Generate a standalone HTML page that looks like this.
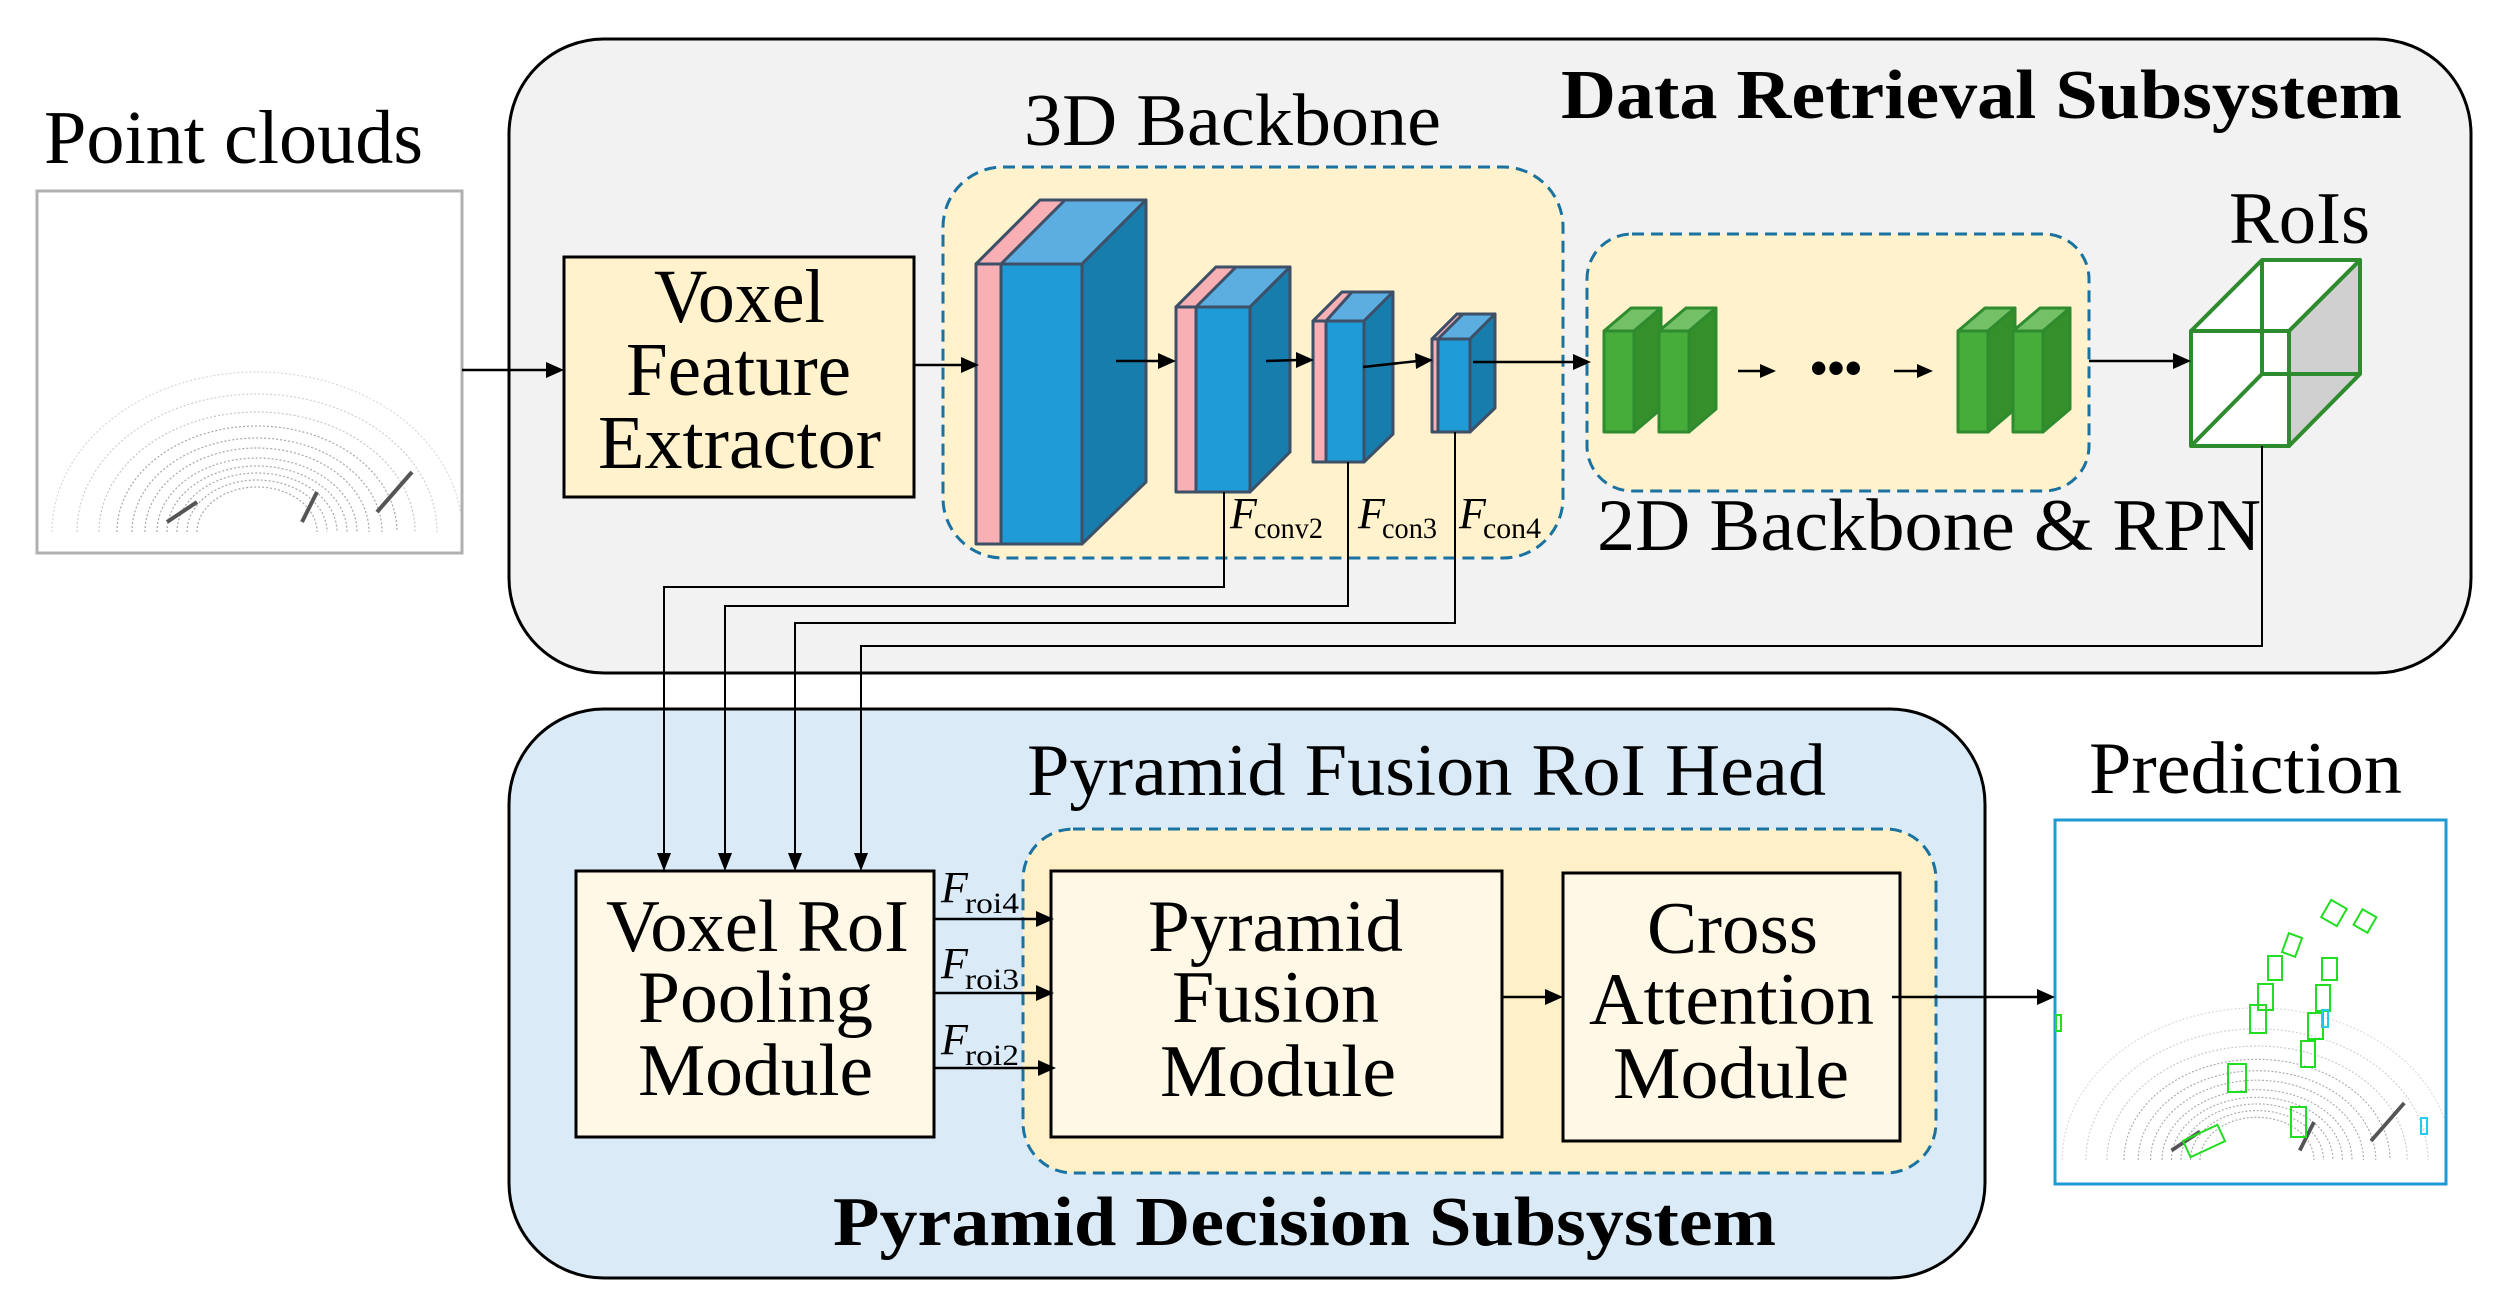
<!DOCTYPE html>
<html><head><meta charset="utf-8"><style>
html,body{margin:0;padding:0;background:#fff;}
svg{display:block;}
text{font-family:"Liberation Serif",serif;fill:#000;}
</style></head><body>
<svg width="2500" height="1309" viewBox="0 0 2500 1309" xmlns="http://www.w3.org/2000/svg">
<defs>
<g id="pc">
 <g fill="none" stroke="#a8a8a8" stroke-width="1.2" stroke-dasharray="2 2">
  <path d="M-60 0 A60 45 0 0 1 60 0"/><path d="M-70 0 A70 52 0 0 1 70 0"/>
  <path d="M-80 0 A80 59 0 0 1 80 0"/><path d="M-90 0 A90 66 0 0 1 90 0"/>
  <path d="M-100 0 A100 74 0 0 1 100 0"/><path d="M-112 0 A112 84 0 0 1 112 0"/>
  <path d="M-125 0 A125 94 0 0 1 125 0"/><path d="M-140 0 A140 106 0 0 1 140 0"/>
  <path d="M-158 0 A158 120 0 0 1 158 0" stroke="#c8c8c8"/><path d="M-180 0 A180 138 0 0 1 180 0" stroke="#d0d0d0"/>
  <path d="M-205 0 A205 160 0 0 1 205 0" stroke="#dadada"/>
 </g>
 <path d="M-90 -10 l30 -20 M60 -40 l-15 30 M120 -20 l35 -40" stroke="#555" stroke-width="4"/>
</g>
</defs>

<rect x="509" y="39" width="1962" height="634" rx="95" ry="95" fill="#f2f2f2" stroke="#000" stroke-width="3"/>
<rect x="509" y="709" width="1476" height="569" rx="95" ry="95" fill="#dbeaf7" stroke="#000" stroke-width="3"/>

<text x="44" y="163" font-size="76" textLength="379" lengthAdjust="spacingAndGlyphs">Point clouds</text>
<rect x="37" y="191" width="425" height="362" fill="#fff" stroke="#b0b0b0" stroke-width="3"/>
<svg x="38" y="192" width="423" height="360" overflow="hidden"><g transform="translate(219,340)"><use href="#pc"/></g></svg>

<rect x="564" y="257" width="350" height="240" fill="#fff2cc" stroke="#000" stroke-width="3"/>
<text x="654" y="322" font-size="76" textLength="171" lengthAdjust="spacingAndGlyphs">Voxel</text>
<text x="626" y="395" font-size="76" textLength="225" lengthAdjust="spacingAndGlyphs">Feature</text>
<text x="598" y="468" font-size="76" textLength="283" lengthAdjust="spacingAndGlyphs">Extractor</text>

<text x="1024" y="145" font-size="74" textLength="417" lengthAdjust="spacingAndGlyphs">3D Backbone</text>
<rect x="943" y="167" width="620" height="391" rx="60" fill="#fff2cc" stroke="#1a72a0" stroke-width="3" stroke-dasharray="12 7"/>

<g stroke="#3d5068" stroke-width="3" stroke-linejoin="round">
 <polygon points="976,264 1040,200 1146,200 1082,264" fill="#5caee0"/>
 <polygon points="976,264 1040,200 1065,200 1001,264" fill="#f8b0b5"/>
 <polygon points="1082,264 1146,200 1146,482 1082,544" fill="#177dad"/>
 <rect x="976" y="264" width="25" height="280" fill="#f8b0b5"/>
 <rect x="1001" y="264" width="81" height="280" fill="#1f9bd7"/>
 <polygon points="1176,307 1216,267 1290,267 1250,307" fill="#5caee0"/>
 <polygon points="1176,307 1216,267 1236,267 1196,307" fill="#f8b0b5"/>
 <polygon points="1250,307 1290,267 1290,452 1250,492" fill="#177dad"/>
 <rect x="1176" y="307" width="20" height="185" fill="#f8b0b5"/>
 <rect x="1196" y="307" width="54" height="185" fill="#1f9bd7"/>
 <polygon points="1313,321 1342,292 1393,292 1364,321" fill="#5caee0"/>
 <polygon points="1313,321 1342,292 1352,292 1326,321" fill="#f8b0b5"/>
 <polygon points="1364,321 1393,292 1393,434 1364,462" fill="#177dad"/>
 <rect x="1313" y="321" width="13" height="141" fill="#f8b0b5"/>
 <rect x="1326" y="321" width="38" height="141" fill="#1f9bd7"/>
 <polygon points="1432,339 1457,314 1495,314 1470,339" fill="#5caee0"/>
 <polygon points="1432,339 1457,314 1463,314 1438,339" fill="#f8b0b5"/>
 <polygon points="1470,339 1495,314 1495,408 1470,432" fill="#177dad"/>
 <rect x="1432" y="339" width="6" height="93" fill="#f8b0b5"/>
 <rect x="1438" y="339" width="32" height="93" fill="#1f9bd7"/>
</g>

<g font-style="italic" font-size="44">
<text x="1230" y="528">F</text><text x="1358" y="528">F</text><text x="1459" y="528">F</text>
</g>
<g font-size="30">
<text x="1254" y="538" textLength="69" lengthAdjust="spacingAndGlyphs">conv2</text>
<text x="1382" y="538" textLength="55" lengthAdjust="spacingAndGlyphs">con3</text>
<text x="1483" y="538" textLength="58" lengthAdjust="spacingAndGlyphs">con4</text>
</g>

<rect x="1587" y="234" width="502" height="257" rx="45" fill="#fff2cc" stroke="#1a72a0" stroke-width="3" stroke-dasharray="12 7"/>
<g stroke="#2e8b2e" stroke-width="3" stroke-linejoin="round">
 <g id="gb">
 <polygon points="1604,331 1631,308 1661,308 1634,331" fill="#73c066"/>
 <polygon points="1634,331 1661,308 1661,409 1634,432" fill="#35902c"/>
 <rect x="1604" y="331" width="30" height="101" fill="#46ad3a"/>
 </g>
 <use href="#gb" x="55"/>
 <use href="#gb" x="354"/>
 <use href="#gb" x="409"/>
</g>
<g font-size="50" font-weight="bold"><text x="1810" y="385" textLength="52" lengthAdjust="spacingAndGlyphs">•••</text></g>
<text x="1597" y="550" font-size="74" textLength="664" lengthAdjust="spacingAndGlyphs">2D Backbone &amp; RPN</text>

<text x="2229" y="243" font-size="74" textLength="141" lengthAdjust="spacingAndGlyphs">RoIs</text>
<g stroke="#2e8b2e" stroke-width="4" fill="none" stroke-linejoin="round">
 <polygon points="2289,331 2360,260 2360,374 2289,446" fill="#d0d0d0"/>
 <polygon points="2191,331 2262,260 2360,260 2289,331" fill="#fff"/>
 <rect x="2191" y="331" width="98" height="115" fill="#fff"/>
 <line x1="2262" y1="260" x2="2262" y2="374"/>
 <line x1="2191" y1="446" x2="2262" y2="374"/>
 <line x1="2262" y1="374" x2="2360" y2="374"/>
</g>

<text x="1561" y="118" font-size="70" font-weight="bold" textLength="841" lengthAdjust="spacingAndGlyphs">Data Retrieval Subsystem</text>

<!-- bottom content -->
<text x="1027" y="795" font-size="74" textLength="799" lengthAdjust="spacingAndGlyphs">Pyramid Fusion RoI Head</text>
<rect x="1023" y="829" width="913" height="344" rx="50" fill="#fff0c8" stroke="#1a72a0" stroke-width="3" stroke-dasharray="12 7"/>

<rect x="576" y="871" width="358" height="266" fill="#fff8e6" stroke="#000" stroke-width="3"/>
<text x="606" y="951" font-size="74" textLength="303" lengthAdjust="spacingAndGlyphs">Voxel RoI</text>
<text x="638" y="1022" font-size="74" textLength="235" lengthAdjust="spacingAndGlyphs">Pooling</text>
<text x="638" y="1095" font-size="74" textLength="235" lengthAdjust="spacingAndGlyphs">Module</text>

<rect x="1051" y="871" width="451" height="266" fill="#fff8e6" stroke="#000" stroke-width="3"/>
<text x="1148" y="951" font-size="74" textLength="255" lengthAdjust="spacingAndGlyphs">Pyramid</text>
<text x="1172" y="1022" font-size="74" textLength="207" lengthAdjust="spacingAndGlyphs">Fusion</text>
<text x="1160" y="1096" font-size="74" textLength="236" lengthAdjust="spacingAndGlyphs">Module</text>

<rect x="1563" y="873" width="337" height="268" fill="#fff8e6" stroke="#000" stroke-width="3"/>
<text x="1647" y="953" font-size="74" textLength="171" lengthAdjust="spacingAndGlyphs">Cross</text>
<text x="1589" y="1024" font-size="74" textLength="285" lengthAdjust="spacingAndGlyphs">Attention</text>
<text x="1613" y="1098" font-size="74" textLength="236" lengthAdjust="spacingAndGlyphs">Module</text>

<g font-style="italic" font-size="44">
<text x="941" y="902">F</text><text x="941" y="978">F</text><text x="941" y="1054">F</text>
</g>
<g font-size="30">
<text x="965" y="913" textLength="54" lengthAdjust="spacingAndGlyphs">roi4</text>
<text x="965" y="989" textLength="54" lengthAdjust="spacingAndGlyphs">roi3</text>
<text x="965" y="1065" textLength="54" lengthAdjust="spacingAndGlyphs">roi2</text>
</g>

<text x="833" y="1245" font-size="70" font-weight="bold" textLength="943" lengthAdjust="spacingAndGlyphs">Pyramid Decision Subsystem</text>

<text x="2089" y="793" font-size="74" textLength="313" lengthAdjust="spacingAndGlyphs">Prediction</text>
<rect x="2055" y="820" width="391" height="364" fill="#fff" stroke="#1e9bd7" stroke-width="3"/>
<svg x="2057" y="822" width="387" height="360" overflow="hidden"><g transform="translate(200,338) scale(0.95)"><use href="#pc"/></g></svg>
<g fill="none" stroke="#22dd22" stroke-width="2">
 <rect x="2325" y="903" width="18" height="20" transform="rotate(30 2334 913)"/>
 <rect x="2357" y="912" width="16" height="18" transform="rotate(30 2365 921)"/>
 <rect x="2285" y="935" width="14" height="20" transform="rotate(20 2292 945)"/>
 <rect x="2268" y="956" width="14" height="24"/>
 <rect x="2322" y="958" width="15" height="22"/>
 <rect x="2258" y="984" width="15" height="26"/>
 <rect x="2316" y="985" width="14" height="26"/>
 <rect x="2250" y="1005" width="16" height="28"/>
 <rect x="2308" y="1013" width="15" height="26"/>
 <rect x="2301" y="1041" width="14" height="26"/>
 <rect x="2228" y="1064" width="18" height="28"/>
 <rect x="2291" y="1107" width="15" height="30"/>
 <rect x="2185" y="1132" width="38" height="18" transform="rotate(-25 2204 1141)"/>
 <rect x="2056" y="1015" width="5" height="16"/>
</g>
<g fill="none" stroke="#22ccee" stroke-width="2">
 <rect x="2322" y="1010" width="6" height="17"/>
 <rect x="2421" y="1118" width="6" height="16"/>
</g>

<!-- connectors (drawn last) -->
<g stroke="#000" stroke-width="2.5" fill="none">
 <line x1="462" y1="370" x2="548" y2="370"/>
 <line x1="914" y1="365" x2="963" y2="365"/>
 <line x1="1116" y1="361" x2="1160" y2="361"/>
 <line x1="1266" y1="361" x2="1298" y2="360"/>
 <line x1="1363" y1="367" x2="1418" y2="361"/>
 <line x1="1473" y1="362" x2="1575" y2="362"/>
 <line x1="1738" y1="371" x2="1762" y2="371"/>
 <line x1="1894" y1="371" x2="1919" y2="371"/>
 <line x1="2089" y1="361" x2="2175" y2="361"/>
 <line x1="1892" y1="997" x2="2039" y2="997"/>
 <line x1="934" y1="919" x2="1038" y2="919"/>
 <line x1="934" y1="993" x2="1038" y2="993"/>
 <line x1="934" y1="1068" x2="1040" y2="1068"/>
 <line x1="1502" y1="997" x2="1547" y2="997"/>
</g>
<g stroke="#000" stroke-width="2" fill="none">
 <polyline points="1224,492 1224,587 664,587 664,855"/>
 <polyline points="1348,462 1348,606 725,606 725,855"/>
 <polyline points="1455,432 1455,623 795,623 795,855"/>
 <polyline points="2262,446 2262,646 861,646 861,855"/>
</g>
<g fill="#000">
 <polygon points="564,370 546,362 546,378"/>
 <polygon points="979,365 961,357 961,373"/>
 <polygon points="1176,361 1158,353 1158,369"/>
 <polygon points="1314,360 1296,352 1296,368"/>
 <polygon points="1433,360 1415,353 1416,369"/>
 <polygon points="1591,362 1573,354 1573,370"/>
 <polygon points="1776,371 1760,364 1760,378"/>
 <polygon points="1933,371 1917,364 1917,378"/>
 <polygon points="2191,361 2173,353 2173,369"/>
 <polygon points="2055,997 2037,989 2037,1005"/>
 <polygon points="1054,919 1036,911 1036,927"/>
 <polygon points="1054,993 1036,985 1036,1001"/>
 <polygon points="1056,1068 1038,1060 1038,1076"/>
 <polygon points="1563,997 1545,989 1545,1005"/>
 <polygon points="664,871 657,853 671,853"/>
 <polygon points="725,871 718,853 732,853"/>
 <polygon points="795,871 788,853 802,853"/>
 <polygon points="861,871 854,853 868,853"/>
</g>
</svg>
</body></html>
